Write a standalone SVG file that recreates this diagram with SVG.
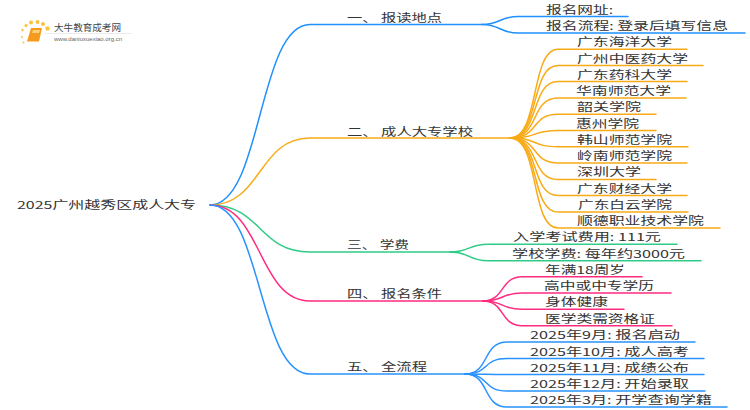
<svg xmlns="http://www.w3.org/2000/svg" width="750" height="410" viewBox="0 0 750 410">
<style>
text{font-family:"Noto Sans CJK SC","Liberation Sans",sans-serif;fill:#333;font-size:11px}
.c{fill:none;stroke-width:1.5;stroke-linecap:round}
.b{stroke:#1e90ff}.o{stroke:#f8ab17}.g{stroke:#2fcb88}.p{stroke:#ff2b80}.b5{stroke:#2893ff}
</style>
<rect width="750" height="410" fill="#fff"/>
<g id="connectors">
<path class="c b" d="M210 205C262 205 258 24.5 310 24.500H482"/>
<path class="c o" d="M210 205C262 205 258 138 310 138H510"/>
<path class="c g" d="M210 205C262 205 258 252 310 252H450"/>
<path class="c p" d="M210 205C262 205 258 301 310 301H483"/>
<path class="c b5" d="M210 205C262 205 258 374 310 374H465"/>
<path class="c b" d="M482 24.500C500 24.500 500 16.500 518 16.500H628"/>
<path class="c b" d="M482 24.500C500 24.500 500 33 518 33H745"/>
<path class="c o" d="M510 138C540 138 530 49.300 558 49.300H687"/>
<path class="c o" d="M510 138C540 138 530 65.600 558 65.600H703"/>
<path class="c o" d="M510 138C540 138 530 81.500 558 81.500H687"/>
<path class="c o" d="M510 138C540 138 530 98 558 98H686"/>
<path class="c o" d="M510 138C540 138 530 114.300 558 114.300H656"/>
<path class="c o" d="M510 138C540 138 530 130.500 558 130.500H656"/>
<path class="c o" d="M510 138C540 138 530 146.700 558 146.700H688"/>
<path class="c o" d="M510 138C540 138 530 163 558 163H687"/>
<path class="c o" d="M510 138C540 138 530 179.500 558 179.500H656"/>
<path class="c o" d="M510 138C540 138 530 195.500 558 195.500H687"/>
<path class="c o" d="M510 138C540 138 530 212 558 212H688"/>
<path class="c o" d="M510 138C540 138 530 228 558 228H720"/>
<path class="c g" d="M450 252C470 252 468 244.300 488 244.300H677"/>
<path class="c g" d="M450 252C470 252 468 260.700 488 260.700H701"/>
<path class="c p" d="M483 301C505 301 500 276.700 522 276.700H642"/>
<path class="c p" d="M483 301C505 301 500 293 522 293H671"/>
<path class="c p" d="M483 301C505 301 500 309.300 522 309.300H624"/>
<path class="c p" d="M483 301C505 301 500 325.700 522 325.700H672"/>
<path class="c b5" d="M465 374C490 374 482 342 507 342H695"/>
<path class="c b5" d="M465 374C490 374 482 358.500 507 358.500H704"/>
<path class="c b5" d="M465 374C490 374 482 374.500 507 374.500H704"/>
<path class="c b5" d="M465 374C490 374 482 391 507 391H705"/>
<path class="c b5" d="M465 374C490 374 482 407 507 407H727"/>
</g>
<g id="logo">
<g fill="#fbc33c"><circle cx="22.500" cy="30" r="1.200"/><circle cx="26" cy="25.500" r="1.600"/><circle cx="31" cy="22.500" r="2"/><circle cx="37.500" cy="22" r="2"/><circle cx="43" cy="24" r="2"/><circle cx="47.500" cy="28.500" r="2.200"/><circle cx="22" cy="37" r="1"/><circle cx="23.500" cy="42.500" r="1"/></g>
<path d="M31 28H42L39 41.500H27Z" fill="#f59a1c"/><path d="M33 30H40L39 33H32Z" fill="#fcd27a"/>
<text id="logo-name" x="54" y="31" textLength="67" lengthAdjust="spacingAndGlyphs" style="font-size:9.500px;fill:#444">大牛教育成考网</text>
<path d="M45 33.500H132" stroke="#ddd" stroke-width="0.600"/>
<text id="logo-url" x="54" y="41" textLength="68" lengthAdjust="spacingAndGlyphs" style="font-size:5.500px;fill:#666;font-family:'Liberation Sans',sans-serif">www.daniuxuexiao.org.cn</text>
</g>
<g id="root"><text x="17" y="208.500" textLength="179" lengthAdjust="spacingAndGlyphs">2025广州越秀区成人大专</text></g>
<g id="n1"><text x="347" y="22" textLength="95" lengthAdjust="spacingAndGlyphs">一、 报读地点</text></g>
<g id="n1-1"><text x="546" y="14" textLength="67" lengthAdjust="spacingAndGlyphs">报名网址:</text></g>
<g id="n1-2"><text x="546" y="30.200" textLength="182" lengthAdjust="spacingAndGlyphs">报名流程: 登录后填写信息</text></g>
<g id="n2"><text x="347" y="135.600" textLength="126" lengthAdjust="spacingAndGlyphs">二、 成人大专学校</text></g>
<g id="n2-1"><text x="577" y="46.200" textLength="95" lengthAdjust="spacingAndGlyphs">广东海洋大学</text></g>
<g id="n2-2"><text x="577" y="62.700" textLength="111" lengthAdjust="spacingAndGlyphs">广州中医药大学</text></g>
<g id="n2-3"><text x="577" y="78.700" textLength="95" lengthAdjust="spacingAndGlyphs">广东药科大学</text></g>
<g id="n2-4"><text x="576" y="95.200" textLength="95" lengthAdjust="spacingAndGlyphs">华南师范大学</text></g>
<g id="n2-5"><text x="577" y="111.200" textLength="64" lengthAdjust="spacingAndGlyphs">韶关学院</text></g>
<g id="n2-6"><text x="576" y="127.700" textLength="63" lengthAdjust="spacingAndGlyphs">惠州学院</text></g>
<g id="n2-7"><text x="577" y="143.700" textLength="95" lengthAdjust="spacingAndGlyphs">韩山师范学院</text></g>
<g id="n2-8"><text x="577" y="160.200" textLength="95" lengthAdjust="spacingAndGlyphs">岭南师范学院</text></g>
<g id="n2-9"><text x="577" y="176.200" textLength="64" lengthAdjust="spacingAndGlyphs">深圳大学</text></g>
<g id="n2-10"><text x="577" y="192.700" textLength="95" lengthAdjust="spacingAndGlyphs">广东财经大学</text></g>
<g id="n2-11"><text x="578" y="209.200" textLength="94" lengthAdjust="spacingAndGlyphs">广东白云学院</text></g>
<g id="n2-12"><text x="577" y="225.200" textLength="127" lengthAdjust="spacingAndGlyphs">顺德职业技术学院</text></g>
<g id="n3"><text x="347" y="249.300" textLength="62" lengthAdjust="spacingAndGlyphs">三、 学费</text></g>
<g id="n3-1"><text x="513" y="241.200" textLength="148" lengthAdjust="spacingAndGlyphs">入学考试费用: 111元</text></g>
<g id="n3-2"><text x="512" y="257.700" textLength="173" lengthAdjust="spacingAndGlyphs">学校学费: 每年约3000元</text></g>
<g id="n4"><text x="347" y="298.300" textLength="95" lengthAdjust="spacingAndGlyphs">四、 报名条件</text></g>
<g id="n4-1"><text x="545" y="274.200" textLength="80" lengthAdjust="spacingAndGlyphs">年满18周岁</text></g>
<g id="n4-2"><text x="544" y="290.200" textLength="110" lengthAdjust="spacingAndGlyphs">高中或中专学历</text></g>
<g id="n4-3"><text x="545" y="306.200" textLength="63" lengthAdjust="spacingAndGlyphs">身体健康</text></g>
<g id="n4-4"><text x="545" y="322.700" textLength="110" lengthAdjust="spacingAndGlyphs">医学类需资格证</text></g>
<g id="n5"><text x="347" y="371" textLength="80" lengthAdjust="spacingAndGlyphs">五、 全流程</text></g>
<g id="n5-1"><text x="530" y="339.200" textLength="150" lengthAdjust="spacingAndGlyphs">2025年9月: 报名启动</text></g>
<g id="n5-2"><text x="530" y="355.700" textLength="159" lengthAdjust="spacingAndGlyphs">2025年10月: 成人高考</text></g>
<g id="n5-3"><text x="530" y="371.700" textLength="159" lengthAdjust="spacingAndGlyphs">2025年11月: 成绩公布</text></g>
<g id="n5-4"><text x="530" y="388.200" textLength="159" lengthAdjust="spacingAndGlyphs">2025年12月: 开始录取</text></g>
<g id="n5-5"><text x="530" y="404.200" textLength="182" lengthAdjust="spacingAndGlyphs">2025年3月: 开学查询学籍</text></g>
</svg>
